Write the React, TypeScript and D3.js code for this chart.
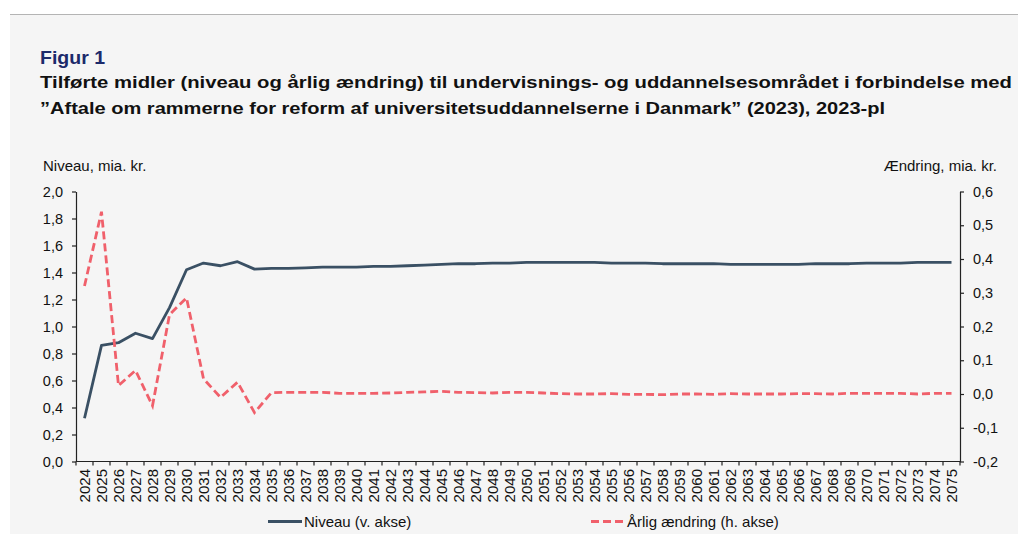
import { useEffect, useRef } from "react";
import * as d3 from "d3";

const years = [
  "2024", "2025", "2026", "2027", "2028", "2029", "2030", "2031", "2032", "2033",
  "2034", "2035", "2036", "2037", "2038", "2039", "2040", "2041", "2042", "2043",
  "2044", "2045", "2046", "2047", "2048", "2049", "2050", "2051", "2052", "2053",
  "2054", "2055", "2056", "2057", "2058", "2059", "2060", "2061", "2062", "2063",
  "2064", "2065", "2066", "2067", "2068", "2069", "2070", "2071", "2072", "2073",
  "2074", "2075",
];

// Niveau, mia. kr. (venstre akse)
const niveau = [
  0.32, 0.86, 0.88, 0.95, 0.91, 1.14, 1.42, 1.47, 1.45, 1.48,
  1.425, 1.43, 1.43, 1.435, 1.44, 1.44, 1.44, 1.445, 1.445, 1.45,
  1.455, 1.46, 1.465, 1.465, 1.47, 1.47, 1.475, 1.475, 1.475, 1.475,
  1.475, 1.47, 1.47, 1.47, 1.465, 1.465, 1.465, 1.465, 1.46, 1.46,
  1.46, 1.46, 1.46, 1.465, 1.465, 1.465, 1.47, 1.47, 1.47, 1.475,
  1.475, 1.475,
];

// Årlig ændring, mia. kr. (højre akse)
const aendring = [
  0.32, 0.54, 0.025, 0.07, -0.035, 0.235, 0.285, 0.045, -0.01, 0.035,
  -0.055, 0.004, 0.005, 0.005, 0.005, 0.002, 0.002, 0.002, 0.003, 0.005,
  0.006, 0.008, 0.005, 0.004, 0.003, 0.005, 0.005, 0.003, 0.001, 0.0,
  0.0, 0.001, -0.001, -0.001, -0.002, 0.0, 0.0, -0.001, 0.001, 0.0,
  0.0, 0.0, 0.001, 0.001, 0.0, 0.002, 0.002, 0.002, 0.002, 0.0,
  0.002, 0.002,
];

const leftTicks = [0, 0.2, 0.4, 0.6, 0.8, 1.0, 1.2, 1.4, 1.6, 1.8, 2.0];
const rightTicks = [-0.2, -0.1, 0, 0.1, 0.2, 0.3, 0.4, 0.5, 0.6];

const FONT = "'Liberation Sans', Arial, sans-serif";
const DARK = "#3a5064";
const RED = "#f0606b";

export default function App() {
  const ref = useRef(null);

  useEffect(() => {
    const svg = d3.select(ref.current);
    svg.selectAll("*").remove();

    const left = 76, right = 960, top = 191.5, bottom = 461.5;
    const fmt = (v) => d3.format(".1f")(v).replace(".", ",").replace("−", "-");

    // baggrund
    svg.append("rect").attr("x", 10).attr("y", 15).attr("width", 1008).attr("height", 519).attr("fill", "#f5f5f5");
    svg.append("line").attr("x1", 10).attr("x2", 1018).attr("y1", 14.5).attr("y2", 14.5)
      .attr("stroke", "#b4b4b4").attr("stroke-width", 1.2);

    // titler (bredden er strakt som i originalen)
    svg.append("text").attr("x", 40).attr("y", 64).text("Figur 1")
      .attr("textLength", 65).attr("lengthAdjust", "spacingAndGlyphs")
      .style("font-family", FONT).style("font-weight", 700).style("font-size", "18px").attr("fill", "#1c2a6b");
    svg.append("text").attr("x", 40).attr("y", 88)
      .text("Tilførte midler (niveau og årlig ændring) til undervisnings- og uddannelsesområdet i forbindelse med")
      .attr("textLength", 972).attr("lengthAdjust", "spacingAndGlyphs")
      .style("font-family", FONT).style("font-weight", 700).style("font-size", "17px").attr("fill", "#111");
    svg.append("text").attr("x", 40).attr("y", 114)
      .text("”Aftale om rammerne for reform af universitetsuddannelserne i Danmark” (2023), 2023-pl")
      .attr("textLength", 845).attr("lengthAdjust", "spacingAndGlyphs")
      .style("font-family", FONT).style("font-weight", 700).style("font-size", "17px").attr("fill", "#111");

    const x = d3.scaleBand().domain(years).range([left, right]).padding(0);
    const yL = d3.scaleLinear().domain([0, 2]).range([bottom, top]);
    const yR = d3.scaleLinear().domain([-0.2, 0.6]).range([bottom, top]);
    const cx = (i) => x(years[i]) + x.bandwidth() / 2;

    // akser
    const axL = svg.append("g").attr("transform", `translate(${left},0)`)
      .call(d3.axisLeft(yL).tickValues(leftTicks).tickFormat(fmt).tickSizeInner(4).tickSizeOuter(0).tickPadding(9));
    const axR = svg.append("g").attr("transform", `translate(${right},0)`)
      .call(d3.axisRight(yR).tickValues(rightTicks).tickFormat(fmt).tickSizeInner(4).tickSizeOuter(0).tickPadding(9));
    [axL, axR].forEach((g) => {
      g.selectAll("text").style("font-family", FONT).style("font-size", "14.5px").attr("fill", "#111");
      g.selectAll("line, path").attr("stroke", "#222").attr("stroke-width", 1.2);
    });

    const bounds = years.map((d) => x(d)).concat([right]);
    const gx = svg.append("g");
    gx.append("line").attr("x1", left).attr("x2", right).attr("y1", bottom).attr("y2", bottom)
      .attr("stroke", "#222").attr("stroke-width", 1.2);
    gx.selectAll(".tk").data(bounds).enter().append("line")
      .attr("x1", (d) => d).attr("x2", (d) => d).attr("y1", bottom).attr("y2", bottom + 4)
      .attr("stroke", "#222").attr("stroke-width", 1.2);
    gx.selectAll(".lb").data(years).enter().append("text")
      .attr("transform", (d, i) => `translate(${cx(i)},${bottom + 7.5}) rotate(-90)`)
      .attr("dy", "0.35em").attr("text-anchor", "end")
      .style("font-family", FONT).style("font-size", "15px").attr("fill", "#111")
      .text((d) => d);

    // aksetitler
    svg.append("text").attr("x", 43).attr("y", 171).text("Niveau, mia. kr.")
      .style("font-family", FONT).style("font-size", "15px").attr("fill", "#111");
    svg.append("text").attr("x", 997).attr("y", 171).attr("text-anchor", "end").text("Ændring, mia. kr.")
      .style("font-family", FONT).style("font-size", "15px").attr("fill", "#111");

    // linjer
    const lineL = d3.line().x((d, i) => cx(i)).y((d) => yL(d));
    const lineR = d3.line().x((d, i) => cx(i)).y((d) => yR(d));
    svg.append("path").datum(niveau).attr("d", lineL)
      .attr("fill", "none").attr("stroke", DARK).attr("stroke-width", 2.8).attr("stroke-linejoin", "round");
    svg.append("path").datum(aendring).attr("d", lineR)
      .attr("fill", "none").attr("stroke", RED).attr("stroke-width", 2.8).attr("stroke-dasharray", "8,4");

    // legende
    const lg = svg.append("g");
    lg.append("line").attr("x1", 268).attr("x2", 302).attr("y1", 521.5).attr("y2", 521.5)
      .attr("stroke", DARK).attr("stroke-width", 2.8);
    lg.append("text").attr("x", 304).attr("y", 527).text("Niveau (v. akse)")
      .style("font-family", FONT).style("font-size", "15px").attr("fill", "#111");
    lg.append("line").attr("x1", 591).attr("x2", 623).attr("y1", 521.5).attr("y2", 521.5)
      .attr("stroke", RED).attr("stroke-width", 2.8).attr("stroke-dasharray", "8,4");
    lg.append("text").attr("x", 627).attr("y", 527).text("Årlig ændring (h. akse)")
      .style("font-family", FONT).style("font-size", "15px").attr("fill", "#111");
  }, []);

  return (
    <div style={{ position: "absolute", left: 0, top: 0, width: 1018, height: 534, background: "#fff" }}>
      <svg ref={ref} width={1018} height={534}></svg>
    </div>
  );
}
